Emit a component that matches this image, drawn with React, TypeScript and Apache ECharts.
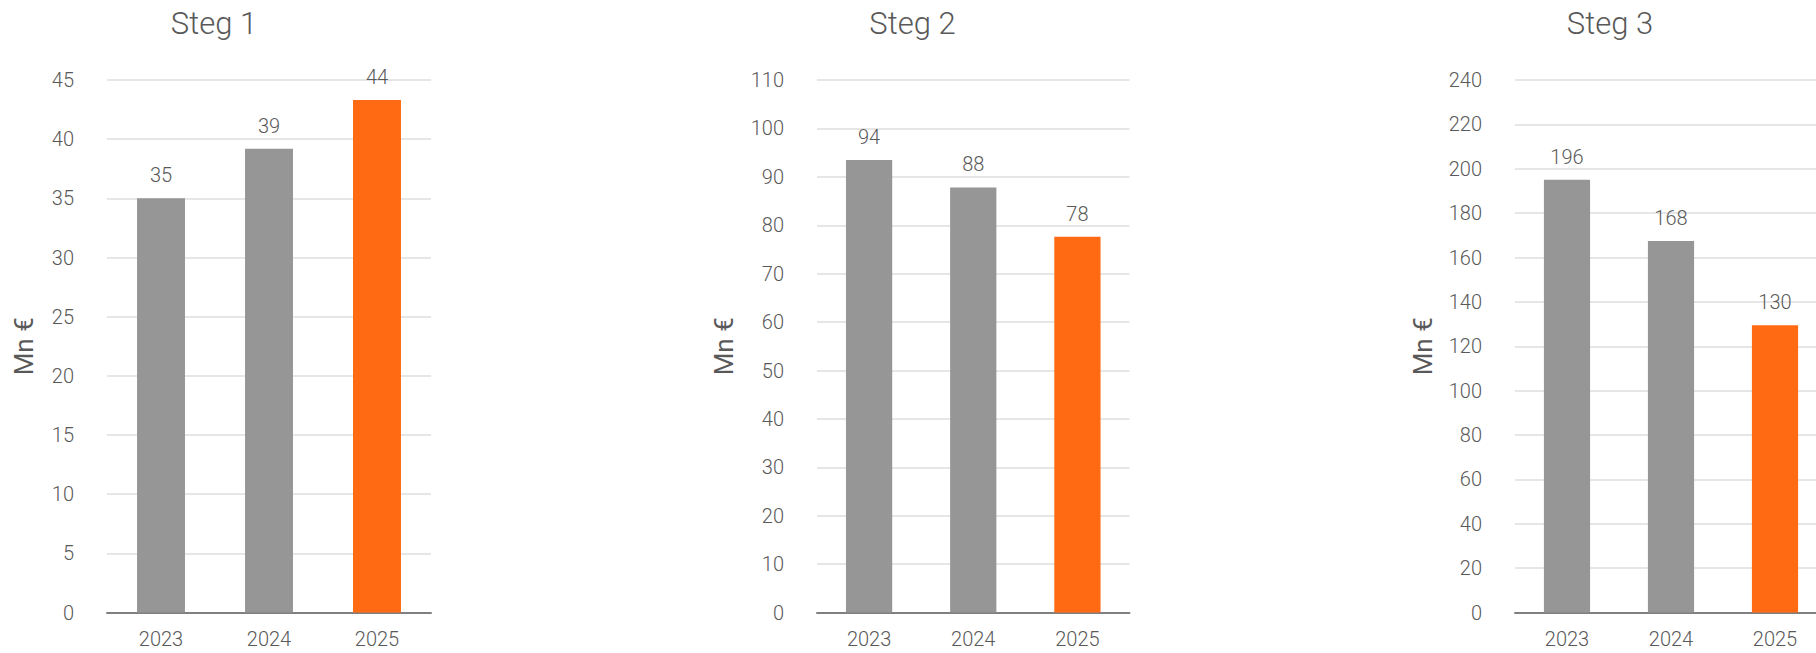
import React, { useEffect, useRef } from 'react';
import * as echarts from 'echarts';

// ---- data ----
const categories = ['2023', '2024', '2025'];
const titles = ['Steg 1', 'Steg 2', 'Steg 3'];
const steg1Values = [35.0, 39.2, 43.3];
const steg2Values = [93.5, 87.8, 77.6];
const steg3Values = [195.0, 167.5, 129.5];
const steg1Labels = ['35', '39', '44'];
const steg2Labels = ['94', '88', '78'];
const steg3Labels = ['196', '168', '130'];
const yMaxes = [45, 110, 240];
const yIntervals = [5, 10, 20];
const yAxisName = 'Mn €';

const GRAY = '#969696';
const ORANGE = '#FF6A13';
const TEXT = '#595959';
const FONT = 'Roboto, "Noto Sans", sans-serif';
const LIGHT = 300;

export default function App() {
  const ref = useRef<HTMLDivElement>(null);

  useEffect(() => {
    if (!ref.current) return;
    const chart = echarts.init(ref.current, undefined, { renderer: 'svg' });

    const valuesList = [steg1Values, steg2Values, steg3Values];
    const labelsList = [steg1Labels, steg2Labels, steg3Labels];
    const gridLayout = [
      { left: 107, width: 324 },
      { left: 817, width: 312.5 },
      { left: 1515, width: 312 },
    ];
    const nameGaps = [70, 80, 79];
    const titleX = [214, 912.5, 1610];

    const option: any = {
      animation: false,
      backgroundColor: '#ffffff',
      textStyle: { fontFamily: FONT },
      graphic: titles.map((t, i) => ({
        type: 'text',
        x: titleX[i],
        y: 23,
        style: {
          text: t,
          textAlign: 'center',
          textVerticalAlign: 'middle',
          fontSize: 31,
          fontWeight: LIGHT,
          fontFamily: FONT,
          fill: TEXT,
        },
      })),
      grid: gridLayout.map((g) => ({
        left: g.left,
        width: g.width,
        top: 80,
        height: 532.6,
        containLabel: false,
      })),
      xAxis: [0, 1, 2].map((i) => ({
        type: 'category',
        gridIndex: i,
        data: categories,
        axisLine: { show: true, lineStyle: { color: '#808080', width: 2 } },
        axisTick: { show: false },
        axisLabel: {
          color: TEXT,
          fontSize: 20,
          fontWeight: LIGHT,
          fontFamily: FONT,
          margin: 16,
        },
      })),
      yAxis: [0, 1, 2].map((i) => ({
        type: 'value',
        gridIndex: i,
        min: 0,
        max: yMaxes[i],
        interval: yIntervals[i],
        name: yAxisName,
        nameLocation: 'middle',
        nameGap: nameGaps[i],
        nameTextStyle: { color: TEXT, fontSize: 26, fontFamily: FONT },
        axisLine: { show: false },
        axisTick: { show: false },
        axisLabel: {
          color: TEXT,
          fontSize: 20,
          fontWeight: LIGHT,
          fontFamily: FONT,
          margin: 33,
        },
        splitLine: { show: true, lineStyle: { color: '#E6E6E6', width: 2 } },
      })),
      series: [0, 1, 2].map((i) => ({
        type: 'bar',
        xAxisIndex: i,
        yAxisIndex: i,
        barWidth: '44.4%',
        data: valuesList[i].map((v, j) => ({
          value: v,
          itemStyle: { color: j === categories.length - 1 ? ORANGE : GRAY },
        })),
        label: {
          show: true,
          position: 'top',
          distance: 13,
          color: TEXT,
          fontSize: 20,
          fontWeight: LIGHT,
          fontFamily: FONT,
          formatter: (p: any) => labelsList[i][p.dataIndex],
        },
      })),
    };

    chart.setOption(option);
    return () => chart.dispose();
  }, []);

  return (
    <div
      style={{
        position: 'absolute',
        left: 0,
        top: 0,
        width: 1816,
        height: 653,
        overflow: 'hidden',
      }}
    >
      <div ref={ref} style={{ width: 1840, height: 653 }} />
    </div>
  );
}
